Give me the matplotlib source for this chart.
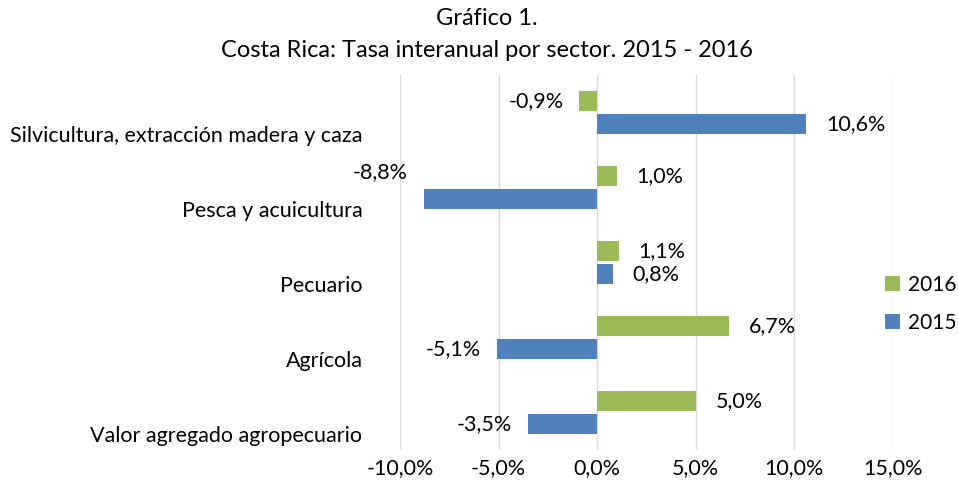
import matplotlib
matplotlib.use("Agg")
import matplotlib.pyplot as plt
import numpy as np

plt.rcParams['font.family'] = ['Lato', 'DejaVu Sans']

sectores = ["Valor agregado agropecuario", "Agrícola", "Pecuario",
            "Pesca y acuicultura", "Silvicultura, extracción madera y caza"]
v2016 = [5.0, 6.7, 1.1, 1.0, -0.9]
v2015 = [-3.5, -5.1, 0.8, -8.8, 10.6]

verde = "#9BBB59"
azul = "#4F81BD"
fs = 15.5

fig = plt.figure(figsize=(9.58, 4.91), dpi=100)
ax = fig.add_axes([0.4175, 0.0835, 0.5145, 0.7635])

y = np.arange(len(sectores))
h = 0.27
ax.barh(y + h / 2 + 0.015, v2016, height=h, color=verde, label="2016", zorder=3)
ax.barh(y - h / 2 - 0.015, v2015, height=h, color=azul, label="2015", zorder=3)

def etiqueta(v, yy, dy=0):
    txt = f"{v:.1f}%".replace(".", ",")
    if v >= 0:
        ax.text(v + 1.0, yy + dy, txt, ha="left", va="center", fontsize=fs)
    else:
        ax.text(v - 0.8, yy + dy, txt, ha="right", va="center", fontsize=fs)

for i in range(len(sectores)):
    etiqueta(v2016[i], y[i] + h / 2 + 0.015)
    dy = 0.36 if v2015[i] < -8 else 0
    etiqueta(v2015[i], y[i] - h / 2 - 0.015, dy)

ax.set_xlim(-10, 15)
ax.set_ylim(-0.5, 4.5)
ax.set_xticks([-10, -5, 0, 5, 10, 15])
ax.set_xticklabels([f"{t:.1f}%".replace(".", ",") for t in [-10, -5, 0, 5, 10, 15]], fontsize=fs)
ax.set_yticks(y - 0.29)
ax.set_yticklabels(sectores, fontsize=fs)
ax.tick_params(length=0, pad=6)
ax.tick_params(axis="y", pad=27)
ax.grid(axis="x", color="#D9D9D9", linewidth=1, zorder=0)
for s in ax.spines.values():
    s.set_visible(False)

fig.text(0.508, 0.963, "Gráfico 1.", ha="center", va="center", fontsize=17)
fig.text(0.508, 0.898, "Costa Rica: Tasa interanual por sector. 2015 - 2016",
         ha="center", va="center", fontsize=17)

ax.legend(loc="center left", bbox_to_anchor=(0.985, 0.39), frameon=False,
          fontsize=15, handlelength=0.7, handleheight=0.7, labelspacing=0.85,
          handletextpad=0.4, borderpad=0, borderaxespad=0)

fig.savefig("out.png", dpi=100)
